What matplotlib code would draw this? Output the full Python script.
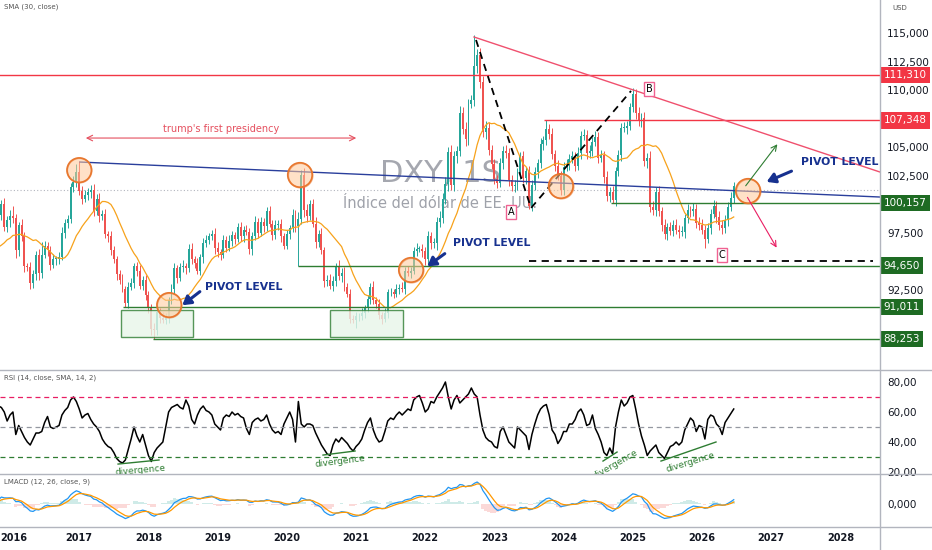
import numpy as np
import pandas as pd
import matplotlib
matplotlib.use("Agg")
import matplotlib.pyplot as plt
import matplotlib.transforms as mtransforms
from matplotlib.lines import Line2D
from matplotlib.patches import Rectangle

# DXY, semi-monthly closes (two per month)
close_2015 = [92.0, 94.8, 94.5, 95.3, 99.6, 98.2, 97.5, 95.0, 94.6, 96.9, 95.2, 95.5,
              97.3, 97.2, 96.5, 95.9, 95.4, 96.3, 94.8, 96.9, 99.1, 100.0, 98.0, 98.6]
close_2016 = [99.0, 98.8, 96.0, 98.2, 97.2, 94.6, 94.5, 93.1, 93.9, 95.6, 94.0, 95.6,
              96.4, 96.0, 94.7, 95.2, 95.2, 95.4, 97.5, 98.4, 98.7, 101.5, 102.0, 102.8]
close_2017 = [101.2, 100.5, 100.8, 101.1, 101.3, 99.4, 100.5, 99.0, 99.2, 97.4, 97.2, 96.0,
              95.2, 93.9, 93.4, 92.6, 91.4, 92.8, 93.1, 94.6, 94.2, 92.9, 93.4, 92.1]
close_2018 = [90.9, 89.1, 89.0, 90.6, 90.1, 89.9, 90.1, 91.6, 92.6, 94.4, 93.6, 94.5,
              94.6, 94.4, 96.1, 95.2, 94.9, 94.2, 95.4, 96.6, 96.9, 97.2, 97.4, 96.2]
close_2019 = [95.8, 95.6, 96.9, 96.2, 96.8, 97.3, 97.0, 98.0, 97.2, 97.8, 97.6, 96.1,
              97.2, 98.5, 97.5, 98.5, 98.1, 99.4, 98.3, 97.3, 98.2, 98.3, 97.2, 96.4]
close_2020 = [97.4, 97.9, 99.1, 98.1, 98.7, 102.6, 99.5, 99.0, 100.0, 98.3, 96.7, 97.4,
              96.0, 93.3, 93.4, 92.9, 93.3, 94.6, 93.7, 94.0, 92.8, 92.2, 90.0, 89.9]
close_2021 = [90.2, 90.2, 90.5, 90.9, 91.7, 92.8, 91.6, 91.3, 90.3, 90.0, 90.5, 92.3,
              92.3, 92.2, 92.6, 92.7, 92.6, 94.2, 94.0, 94.2, 95.9, 96.1, 96.1, 95.9]
close_2022 = [95.2, 97.2, 96.6, 96.6, 98.5, 98.8, 100.5, 101.8, 104.6, 101.7, 104.2, 104.7,
              108.0, 106.6, 105.7, 108.8, 109.1, 112.1, 113.1, 110.7, 106.3, 106.7, 104.8, 103.5]
close_2023 = [102.2, 101.9, 103.6, 104.7, 104.5, 102.1, 101.6, 101.7, 102.7, 104.2, 102.3, 102.9,
              99.9, 101.7, 102.8, 103.6, 105.3, 105.6, 106.6, 106.2, 104.4, 103.4, 102.5, 101.3]
close_2024 = [103.3, 103.5, 104.0, 104.2, 103.4, 104.5, 106.0, 106.1, 104.5, 104.7, 105.5, 105.9,
              104.1, 104.3, 102.4, 100.7, 101.1, 100.4, 102.9, 104.3, 106.7, 106.7, 106.9, 108.5]
close_2025 = [109.7, 108.0, 107.3, 107.6, 103.8, 104.1, 99.8, 99.5, 101.1, 99.4, 98.2, 97.4,
              98.0, 97.7, 98.2, 97.8, 97.6, 97.6, 98.8, 99.5, 99.4, 99.6, 98.4, 98.2]
close_2026 = [97.8, 97.0, 97.9, 99.2, 99.9, 98.9, 98.2, 97.9, 98.6, 99.8, 100.6, 101.6]

# wick lengths above / below the candle body
up_2015 = [.6, .5, .4, .5, .8, .6, .5, .4, .5, .4, .6, .4, .5, .3, .4, .5, .4, .5, .4, .4, .5, .4, .6, .4]
dn_2015 = [.5, .4, .5, .3, .4, .5, .6, .4, .5, .4, .3, .5, .4, .5, .4, .3, .5, .4, .5, .4, .4, .5, .3, .4]
up_2016 = [.5, .9, .4, .3, .5, .4, .3, .5, .4, .3, .5, 1.1, .4, .3, .4, .5, .3, .4, .5, .3, .4, .4, .5, .7]
dn_2016 = [.6, .4, .7, .5, .4, .5, .3, .5, .4, .5, .6, .4, .3, .5, .4, .3, .5, .4, .3, .4, .5, .3, .4, .5]
up_2017 = [1.0, .4, .5, .3, .4, .5, .4, .5, .3, .4, .3, .5, .4, .3, .4, .5, .3, .4, .5, .3, .4, .5, .3, .4]
dn_2017 = [.4, .5, .3, .4, .5, .4, .3, .5, .4, .3, .5, .4, .3, .5, .4, .3, .4, .5, .3, .4, .5, .3, .4, .5]
up_2018 = [.3, .4, .5, .4, .3, .5, .4, .3, .4, .5, .3, .4, .5, .3, .4, .5, .3, .4, .3, .5, .4, .3, .4, .5]
dn_2018 = [.4, .5, .75, .4, .5, .3, .4, .5, .3, .4, .5, .3, .4, .5, .3, .4, .5, .3, .4, .5, .3, .4, .3, .5]
up_2019 = [.5, .3, .4, .3, .5, .4, .3, .4, .5, .3, .4, .3, .4, .5, .3, .4, .3, .4, .5, .3, .4, .3, .4, .3]
dn_2019 = [.4, .5, .3, .4, .3, .4, .5, .3, .4, .5, .3, .4, .5, .3, .4, .3, .5, .4, .3, .4, .3, .4, .5, .3]
up_2020 = [.4, .3, .5, .4, .6, .4, .6, .5, .4, .5, .6, .4, .5, .3, .4, .5, .4, .3, .5, .4, .5, .3, .4, .3]
dn_2020 = [.3, .4, .3, .5, 3.45, .4, .6, .5, .4, .3, .5, .4, .3, .5, .4, .3, .5, .4, .3, .5, .4, .3, .4, .3]
up_2021 = [.4, .3, .4, .3, .4, .3, .5, .3, .4, .3, .4, .3, .4, .3, .4, .3, .5, .3, .4, .3, .4, .5, .3, .4]
dn_2021 = [.7, .4, .3, .4, .3, .4, .3, .4, .3, .5, .3, .4, .3, .4, .3, .4, .3, .4, .3, .4, .3, .4, .3, .5]
up_2022 = [.4, .5, .4, .5, .4, .6, .5, .6, .4, .6, .5, .4, .6, .5, .6, .4, .5, 2.7, .5, .6, .5, .6, .5, .4]
dn_2022 = [.5, .4, .5, .4, .6, .5, .4, .5, .6, .4, .5, .6, .5, .4, .6, .5, .4, .5, .6, .5, .4, .6, .5, .4]
up_2023 = [.5, .4, .5, .4, .5, .4, .5, .4, .5, .4, .5, .4, .5, .4, .5, .4, .5, .4, .75, .4, .5, .4, .5, .4]
dn_2023 = [.4, .5, .4, .5, .4, .5, .4, .5, .4, .5, .4, .5, .3, .5, .4, .5, .4, .5, .4, .5, .4, .5, .4, .5]
up_2024 = [.4, .5, .4, .5, .4, .5, .4, .5, .4, .5, .4, .5, .4, .5, .4, .5, .4, .5, .4, .5, .4, .5, .4, .4]
dn_2024 = [.5, .4, .5, .4, .5, .4, .5, .4, .5, .4, .5, .4, .5, .4, .5, .4, .5, .25, .5, .4, .5, .4, .5, .4]
up_2025 = [.5, .4, .5, .4, .5, .4, .6, .5, .4, .5, .4, .5, .4, .5, .4, .5, .4, .5, .4, .5, .4, .5, .4, .5]
dn_2025 = [.4, .5, .4, .5, .4, .6, .5, .4, .5, .4, .5, .4, .5, .4, .5, .4, .5, .4, .5, .4, .5, .4, .5, .4]
up_2026 = [.5, .4, .5, .4, .5, .4, .5, .4, .5, .4, .5, .4]
dn_2026 = [.4, .8, .4, .5, .4, .5, .4, .5, .4, .5, .4, .5]

rsi_2015 = [64, 63, 60, 54]
rsi_2016 = [58, 60, 45, 51, 47, 43, 40, 38, 42, 46, 46, 47, 53, 57, 50, 49, 50, 51, 58, 61, 63, 68, 70, 67]
rsi_2017 = [62, 56, 58, 59, 55, 52, 50, 47, 42, 39, 37, 36, 33, 29, 27, 26, 28, 35, 42, 50, 44, 40, 45, 38]
rsi_2018 = [31, 27, 33, 36, 38, 40, 50, 60, 63, 64, 65, 63, 62, 68, 64, 55, 52, 58, 62, 64, 61, 60, 58, 52]
rsi_2019 = [50, 48, 56, 58, 57, 60, 58, 59, 57, 56, 49, 45, 53, 55, 56, 54, 55, 58, 52, 48, 46, 47, 45, 52]
rsi_2020 = [56, 60, 55, 40, 67, 52, 50, 52, 52, 51, 46, 42, 38, 35, 32, 31, 38, 42, 40, 43, 41, 39, 36, 34]
rsi_2021 = [37, 39, 42, 48, 53, 56, 48, 43, 40, 41, 47, 54, 56, 55, 58, 60, 58, 60, 62, 61, 68, 70, 71, 66]
rsi_2022 = [60, 62, 67, 66, 70, 73, 76, 80, 70, 62, 68, 71, 66, 68, 70, 72, 76, 72, 70, 58, 48, 43, 41, 40]
rsi_2023 = [37, 36, 47, 50, 45, 40, 38, 36, 50, 48, 46, 44, 35, 45, 52, 58, 62, 64, 65, 58, 48, 45, 39, 42]
rsi_2024 = [47, 47, 52, 52, 55, 60, 62, 58, 51, 52, 58, 49, 45, 40, 33, 31, 36, 32, 50, 60, 68, 64, 66, 70]
rsi_2025 = [71, 62, 52, 44, 38, 31, 34, 36, 38, 33, 31, 29, 33, 37, 38, 40, 38, 40, 48, 52, 56, 54, 47, 51]
rsi_2026 = [50, 42, 55, 58, 57, 52, 50, 45, 53, 56, 59, 62]

# horizontal levels (right-axis tags)
red_levels = [111.310, 107.348]
green_levels = [100.157, 94.650, 91.011, 88.253]
level_start = {111.310: 2015.0, 107.348: 2023.72, 100.157: 2024.685,
               94.650: 2020.16, 91.011: 2017.63, 88.253: 2018.07}
last_line = 101.25
price_ticks = [92.5, 97.5, 102.5, 105.0, 110.0, 112.5, 115.0]

# drawings (date, price)
circles_t = [2017.0, 2020.19, 2018.30, 2021.795, 2023.96, 2026.665]
circles_p = [103.0, 102.58, 91.20, 94.27, 101.61, 101.18]
neck_t, neck_p = [2017.01, 2028.57], [103.71, 100.65]
trend_t, trend_p = [2022.705, 2028.57], [114.65, 102.84]
abc_t, abc_p = [2022.734, 2023.529, 2024.974], [114.39, 99.69, 109.93]
c_level, c_from, c_to = 95.05, 2023.5, 2028.47
boxes = [(2017.60, 2018.645), (2020.624, 2021.68)]
box_lo, box_hi = 88.40, 90.77

closes = (close_2015 + close_2016 + close_2017 + close_2018 + close_2019 + close_2020 +
          close_2021 + close_2022 + close_2023 + close_2024 + close_2025 + close_2026)
wick_up = (up_2015 + up_2016 + up_2017 + up_2018 + up_2019 + up_2020 +
           up_2021 + up_2022 + up_2023 + up_2024 + up_2025 + up_2026)
wick_dn = (dn_2015 + dn_2016 + dn_2017 + dn_2018 + dn_2019 + dn_2020 +
           dn_2021 + dn_2022 + dn_2023 + dn_2024 + dn_2025 + dn_2026)
rsi = (rsi_2015 + rsi_2016 + rsi_2017 + rsi_2018 + rsi_2019 + rsi_2020 +
       rsi_2021 + rsi_2022 + rsi_2023 + rsi_2024 + rsi_2025 + rsi_2026)

c = np.array(closes)
t = 2015 + np.arange(len(c)) / 24
o = np.r_[c[0], c[:-1]]
hi = np.maximum(o, c) + np.array(wick_up)
lo = np.minimum(o, c) - np.array(wick_dn)
t_rsi = t[len(t) - len(rsi):]

s = pd.Series(c)
sma = s.rolling(15).mean()
lc = pd.Series(np.log(c))
macd = lc.ewm(span=6, adjust=False).mean() - lc.ewm(span=13, adjust=False).mean()
signal = macd.ewm(span=4.5, adjust=False).mean()
hist = macd - signal

UP, DN = "#26a69a", "#ef5350"
TXT = "#131722"
RED, GRN = "#f23645", "#2e7d32"
NAVY = "#17318f"

W, H = 932, 550
fig = plt.figure(figsize=(W / 100, H / 100), dpi=100)


def pane(top, bot):
    return [0, 1 - bot / H, 880 / W, (bot - top) / H]


ax = fig.add_axes(pane(0, 370))
ax_rsi = fig.add_axes(pane(370, 474), sharex=ax)
ax_macd = fig.add_axes(pane(474, 527), sharex=ax)
for a in (ax, ax_rsi, ax_macd):
    for sp in a.spines.values():
        sp.set_visible(False)
    a.yaxis.tick_right()
    a.tick_params(axis="y", length=0, pad=5, labelsize=7.5, labelcolor=TXT)
    a.tick_params(axis="x", length=0)
ax.tick_params(axis="x", labelbottom=False)
ax_rsi.tick_params(axis="x", labelbottom=False)

ax.set_xlim(2015.855, 2028.572)
ax.set_ylim(85.516, 117.887)

# watermark
ax.text(2022.214, 102.75, "DXY, 1S", fontsize=22, color="#9598a1", alpha=0.85,
        ha="center", va="center", zorder=0)
ax.text(2022.214, 100.04, "Índice del dólar de EE. UU.", fontsize=10.5, color="#9598a1",
        alpha=0.9, ha="center", va="center", zorder=0)

# candles
col = np.where(c >= o, UP, DN)
ax.vlines(t, lo, hi, colors=col, lw=0.7, zorder=2)
ax.bar(t, np.maximum(np.abs(c - o), 0.08), bottom=np.minimum(o, c), width=0.028,
       color=col, lw=0, zorder=2)
ax.plot(t, sma, color="#f7a21b", lw=0.9, zorder=3)

ax.axhline(last_line, color="#b2b5be", lw=0.8, ls=(0, (1, 2)), zorder=1)

# levels
xr = ax.get_xlim()[1]
for lv in red_levels:
    ax.hlines(lv, level_start[lv], xr, color=RED, lw=1, zorder=4)
for lv in green_levels:
    ax.hlines(lv, level_start[lv], xr, color=GRN, lw=1, zorder=4)
for b0, b1 in boxes:
    ax.add_patch(Rectangle((b0, box_lo), b1 - b0, box_hi - box_lo, fc="#e8f5e9",
                           ec=GRN, lw=1, alpha=0.8, zorder=4))

ax.plot(neck_t, neck_p, color="#2a3f9c", lw=1, zorder=4)
ax.plot(trend_t, trend_p, color="#f0506e", lw=1, zorder=4)
ax.plot(abc_t, abc_p, color="black", lw=1.3, ls=(0, (4, 3)), zorder=5)
ax.hlines(c_level, c_from, c_to, color="black", lw=1.3, ls=(0, (4, 3)), zorder=5)

ax.scatter(circles_t, circles_p, s=310, fc="#ffc999", ec="#e8772e", lw=1.2,
           alpha=0.55, zorder=6)
ax.scatter(circles_t, circles_p, s=310, fc="none", ec="#e8772e", lw=1.2, zorder=6)

for lbl, tx, py in [("A", 2023.24, 99.34), ("B", 2025.234, 110.1), ("C", 2026.29, 95.58)]:
    ax.text(tx, py, lbl, fontsize=7, color="black", ha="center", va="center", zorder=7,
            bbox=dict(boxstyle="square,pad=0.2", fc="white", ec="#f06292", lw=1))

# trump's first presidency
ax.annotate("", xy=(2017.055, 105.81), xytext=(2021.043, 105.81),
            arrowprops=dict(arrowstyle="<->", color="#e5505f", lw=0.8), zorder=7)
ax.text(2019.049, 106.6, "trump's first presidency", fontsize=7, color="#e5505f",
        ha="center", va="center", zorder=7)

# pivot level labels with arrows
pivots = [((2018.818, 92.78), (2018.775, 92.52), (2018.457, 91.03)),
          ((2022.402, 96.63), (2022.315, 95.84), (2021.997, 94.44)),
          ((2027.431, 103.71), (2027.33, 103.01), (2026.896, 101.88))]
for (lx, ly), tail, tip in pivots:
    ax.text(lx, ly, "PIVOT LEVEL", fontsize=7.8, fontweight="bold", color=NAVY,
            ha="left", va="center", zorder=8)
    ax.annotate("", xy=tip, xytext=tail, zorder=8,
                arrowprops=dict(arrowstyle="-|>,head_length=0.5,head_width=0.3",
                                color=NAVY, lw=2.2, mutation_scale=10))

ax.annotate("", xy=(2027.113, 105.46), xytext=(2026.607, 101.44), zorder=7,
            arrowprops=dict(arrowstyle="->", color=GRN, lw=0.8))
ax.annotate("", xy=(2027.098, 96.01), xytext=(2026.636, 100.83), zorder=7,
            arrowprops=dict(arrowstyle="->", color="#e91e63", lw=0.8))

# price axis (ticks hidden behind level tags are left out)
ax.set_yticks(price_ticks)
ax.set_yticklabels([f"{v:.3f}".replace(".", ",") for v in price_ticks])
ytr = ax.get_yaxis_transform()
for lv in red_levels + green_levels:
    ax.text(1.004, lv, f"{lv:.3f}".replace(".", ","), transform=ytr, fontsize=7.5,
            color="white", ha="left", va="center", clip_on=False, zorder=10,
            bbox=dict(boxstyle="square,pad=0.3", fc=RED if lv in red_levels else "#1e6b23",
                      ec="none"))
ax.text(0.004, 0.981, "SMA (30, close)", transform=ax.transAxes, fontsize=5,
        color="#555", va="center")

# RSI pane
ax_rsi.set_ylim(18.67, 88.0)
ax_rsi.plot(t_rsi, rsi, color="black", lw=1.1)
ax_rsi.axhline(70, color="#e91e63", lw=0.9, ls=(0, (4, 3)))
ax_rsi.axhline(50, color="#9598a1", lw=0.9, ls=(0, (4, 3)))
ax_rsi.axhline(30, color=GRN, lw=0.9, ls=(0, (4, 3)))
ax_rsi.set_yticks([20, 40, 60, 80])
ax_rsi.set_yticklabels(["20,00", "40,00", "60,00", "80,00"])
ax_rsi.text(0.004, 0.923, "RSI (14, close, SMA, 14, 2)", transform=ax_rsi.transAxes,
            fontsize=5, color="#555", va="center")
div_lines = [((2017.561, 2018.153), (25.3, 28.0)), ((2020.523, 2020.986), (31.3, 34.0)),
             ((2024.569, 2024.772), (27.3, 33.3)), ((2025.407, 2026.202), (27.3, 40.0))]
for xs, ys in div_lines:
    ax_rsi.plot(xs, ys, color=GRN, lw=1)
div_text = [(2017.88, 21.3, 5), (2020.77, 27.3, 7), (2024.74, 25.3, 30), (2025.83, 26.7, 17)]
for tx, ry, rot in div_text:
    ax_rsi.text(tx, ry, "divergence", fontsize=6.5, color=GRN, rotation=rot,
                ha="center", va="center", rotation_mode="anchor")

# MACD pane
sc = macd.max() / 22
ax_macd.set_ylim(-23 * sc, 30 * sc)
hc = np.where(hist >= 0, UP, DN)
ax_macd.bar(t, hist * 1.3, width=1 / 24, color=hc, alpha=0.22, lw=0)
ax_macd.plot(t, macd, color="#2196f3", lw=0.9)
ax_macd.plot(t, signal, color="#ff9800", lw=0.9)
ax_macd.set_yticks([0])
ax_macd.set_yticklabels(["0,000"])
ax_macd.text(0.004, 0.85, "LMACD (12, 26, close, 9)", transform=ax_macd.transAxes,
             fontsize=5, color="#555", va="center")

years = list(range(2016, 2029))
ax_macd.set_xticks(years)
ax_macd.set_xticklabels([str(y) for y in years])
ax_macd.tick_params(axis="x", labelsize=7, labelcolor=TXT, pad=4)
for lbl in ax_macd.get_xticklabels():
    lbl.set_fontweight("bold")
first = ax_macd.get_xticklabels()[0]
first.set_transform(first.get_transform() +
                    mtransforms.ScaledTranslation(3 / 72, 0, fig.dpi_scale_trans))

# pane separators
sep = "#b2b5be"
for yy in (370, 474, 527):
    fig.add_artist(Line2D([0, 1], [1 - yy / H] * 2, color=sep, lw=1))
fig.add_artist(Line2D([880 / W] * 2, [0, 1], color=sep, lw=1))
fig.text(892 / W, 1 - 8 / H, "USD", fontsize=5, color="#555", va="center")

fig.savefig("out.png", dpi=100)
